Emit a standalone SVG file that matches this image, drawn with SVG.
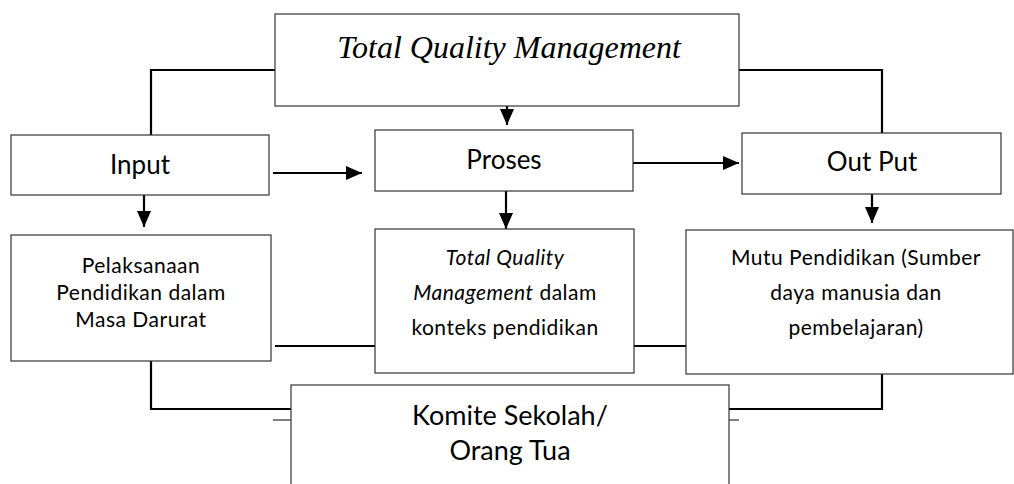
<svg xmlns="http://www.w3.org/2000/svg" width="1014" height="484" viewBox="0 0 1014 484">
<style>
.box{fill:#fff;stroke:#333;stroke-width:1.2}
.c{fill:none;stroke:#000;stroke-width:2.2}
.thin{fill:none;stroke:#000;stroke-width:1}
.t{font-family:Lato,"Open Sans",sans-serif;fill:#000;text-anchor:middle}
.s{font-size:21px;letter-spacing:0.5px}
.h{font-size:26px}
.serif{font-family:"Liberation Serif","Times New Roman",serif;font-style:italic;fill:#000;text-anchor:middle}
</style>
<defs>
<marker id="ah2" markerWidth="16" markerHeight="14" refX="16" refY="7" orient="auto" markerUnits="userSpaceOnUse" viewBox="0 0 16 14"><path d="M0,0 L16,7 L0,14 Z" fill="#000"/></marker>
</defs>
<g id="connectors">
<path class="c" d="M275,70 H151 V135"/>
<path class="c" d="M739,70 H882 V133"/>
<path class="c" d="M507,106 V125" marker-end="url(#ah2)"/>
<path class="c" d="M273,173 H362" marker-end="url(#ah2)"/>
<path class="c" d="M633,163 H739" marker-end="url(#ah2)"/>
<path class="c" d="M144,195 V227" marker-end="url(#ah2)"/>
<path class="c" d="M506,191 V229" marker-end="url(#ah2)"/>
<path class="c" d="M872,194 V223" marker-end="url(#ah2)"/>
<path class="c" d="M275,346 H375"/>
<path class="c" d="M634,346 H686"/>
<path class="c" d="M151,361 V409 H291"/>
<path class="c" d="M882,374 V409 H729"/>
<path class="thin" d="M273,420 H291"/>
<path class="thin" d="M729,420 H739"/>
</g>
<g id="tqm">
<rect class="box" x="275" y="14" width="464" height="92"/>
<text class="serif" x="509" y="58" font-size="32">Total Quality Management</text>
</g>
<g id="input">
<rect class="box" x="11" y="135" width="258" height="60"/>
<text class="t h" x="140" y="174">Input</text>
</g>
<g id="proses">
<rect class="box" x="375" y="130" width="258" height="61"/>
<text class="t h" x="504" y="169">Proses</text>
</g>
<g id="output">
<rect class="box" x="742" y="133" width="259" height="61"/>
<text class="t h" x="872" y="171">Out Put</text>
</g>
<g id="pelaksanaan">
<rect class="box" x="11" y="235" width="260" height="126"/>
<text class="t s" x="141" y="273">Pelaksanaan</text>
<text class="t s" x="141" y="300">Pendidikan dalam</text>
<text class="t s" x="141" y="327">Masa Darurat</text>
</g>
<g id="tqm-konteks">
<rect class="box" x="375" y="229" width="259" height="144"/>
<text class="t s" x="505" y="265" font-style="italic">Total Quality</text>
<text class="t s" x="505" y="300"><tspan font-style="italic">Management</tspan> dalam</text>
<text class="t s" x="505" y="335">konteks pendidikan</text>
</g>
<g id="mutu">
<rect class="box" x="686" y="230" width="327" height="144"/>
<text class="t s" x="856" y="265">Mutu Pendidikan (Sumber</text>
<text class="t s" x="856" y="300">daya manusia dan</text>
<text class="t s" x="856" y="335">pembelajaran)</text>
</g>
<g id="komite">
<rect class="box" x="291" y="385" width="438" height="110"/>
<text class="t" x="510" y="425" font-size="27">Komite Sekolah/</text>
<text class="t" x="510" y="460" font-size="27">Orang Tua</text>
</g>
</svg>
